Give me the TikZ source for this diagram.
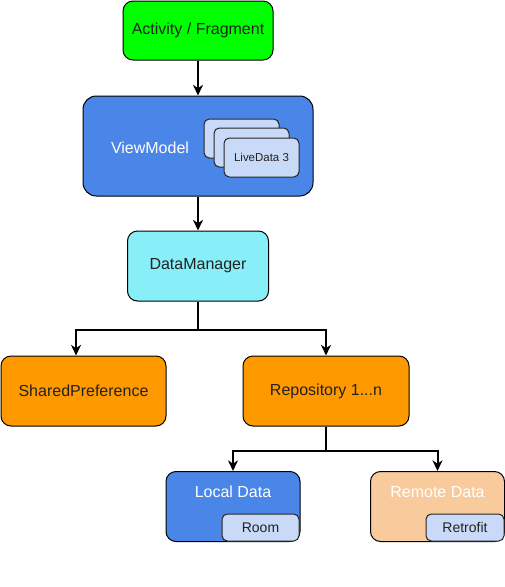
\documentclass[tikz,border=0pt]{standalone}
\usepackage{fontspec}
\setmainfont{Liberation Sans}
\usepackage{tikz}
\usetikzlibrary{arrows.meta,positioning}
\definecolor{actgreen}{RGB}{0,255,0}
\definecolor{vmblue}{RGB}{74,134,232}
\definecolor{cardblue}{RGB}{201,218,248}
\definecolor{dmcyan}{RGB}{136,238,248}
\definecolor{repoorange}{RGB}{255,153,0}
\definecolor{remotepeach}{RGB}{249,203,156}
\definecolor{txtgray}{RGB}{34,34,34}

\begin{document}
\begin{tikzpicture}[x=0.75pt,y=-0.75pt,>=Stealth,
  bx/.style={draw=black,line width=0.75pt,rounded corners=7.5pt,
             minimum height=52.5pt,align=center,text=txtgray,
             font=\fontsize{12}{14}\selectfont},
  cd/.style={draw=black!85,line width=0.75pt,rounded corners=4pt,fill=cardblue,
             minimum width=56.25pt,minimum height=29.25pt,text=txtgray,
             font=\fontsize{8.6}{10}\selectfont},
  sx/.style={draw=black!85,line width=0.75pt,rounded corners=4pt,fill=cardblue,
             minimum height=20.25pt,text=txtgray,
             font=\fontsize{10.5}{12}\selectfont},
  arw/.style={->,line width=1.5pt,
              >={Stealth[length=8pt,width=7.5pt,inset=2.5pt]}}]
  \useasboundingbox (0,0) rectangle (505,587);

  \node[bx,fill=actgreen,minimum width=112.5pt,minimum height=44.25pt](act) at (198,30.5)
    {Activity / Fragment};
  \node[bx,fill=vmblue,rounded corners=10pt,minimum width=172.5pt,minimum height=75pt](vm)
    at (198,146) {};
  \node[font=\fontsize{12}{14}\selectfont,text=white](vmtxt) at (150,148) {ViewModel};
  \node[cd](ld1) at (241.5,138.5) {};
  \node[cd](ld2) at (251.5,147.5) {};
  \node[cd](ld3) at (261.5,157.5) {LiveData 3};

  \node[bx,fill=dmcyan,minimum width=105.75pt](dm) at (198,266) {DataManager};
  \node[bx,fill=repoorange,minimum width=123.75pt](sp) at (83.5,391) {SharedPreference};
  \node[bx,fill=repoorange,minimum width=124.5pt](repo) at (326,391) {Repository 1...n};

  \node[bx,fill=vmblue,minimum width=100.5pt](local) at (233,506.5) {};
  \node[font=\fontsize{12}{14}\selectfont,text=white](localtxt) at (233,492) {Local Data};
  \node[sx,minimum width=57.75pt](room) at (260.5,527.5) {Room};
  \node[bx,fill=remotepeach,minimum width=100.5pt](remote) at (437.5,506.5) {};
  \node[font=\fontsize{12}{14}\selectfont,text=white](remotetxt) at (437.5,492) {Remote Data};
  \node[sx,minimum width=58.5pt](retro) at (465,527.5) {Retrofit};

  \foreach \i/\j in {act/vm,vm/dm}{
    \draw[arw](\i)--(\j);}
  \draw[arw](dm.south) -- ++(0,28) -| ([xshift=-5.6pt]sp.north);
  \draw[arw](dm.south) -- ++(0,28) -| (repo.north);
  \draw[arw](repo.south) -- ++(0,24) -| (local.north);
  \draw[arw](repo.south) -- ++(0,24) -| (remote.north);
\end{tikzpicture}
\end{document}
